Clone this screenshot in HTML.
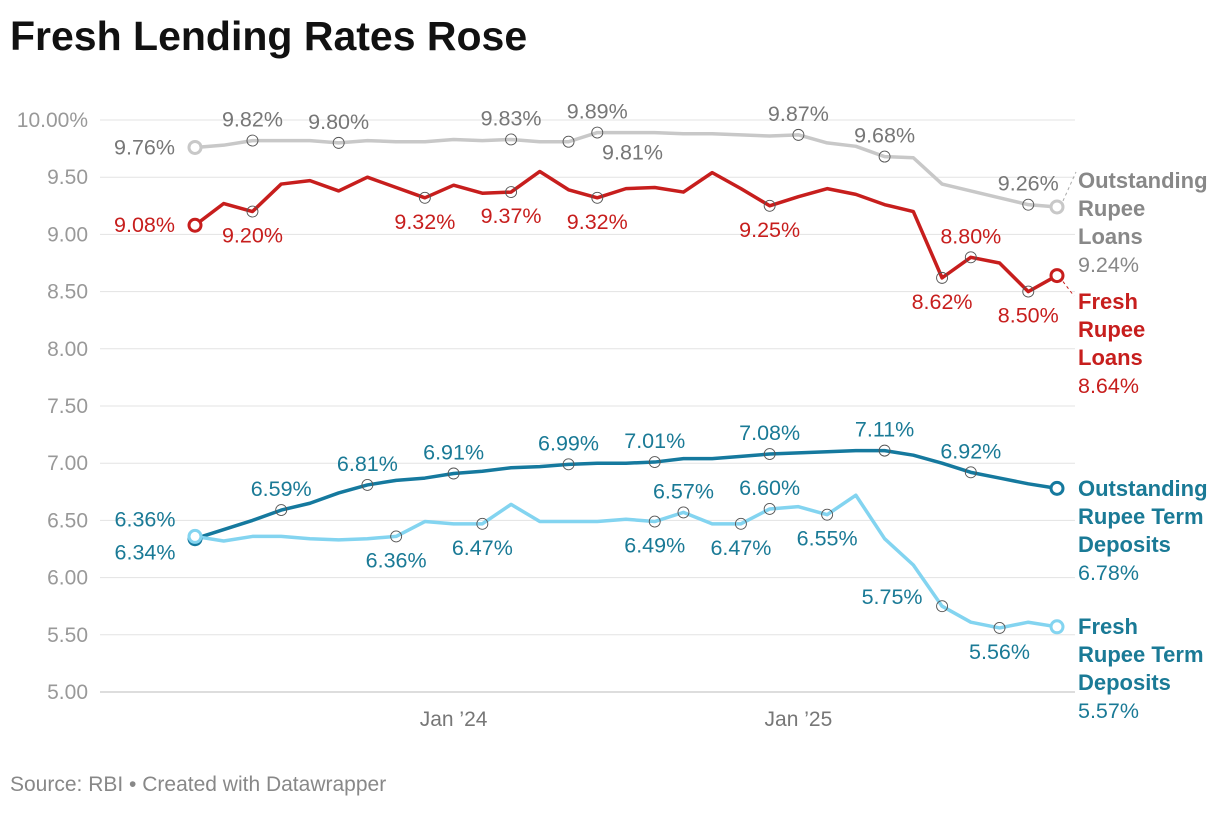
<!DOCTYPE html>
<html><head><meta charset="utf-8"><style>
body{margin:0;background:#fff;font-family:"Liberation Sans",sans-serif;}
svg text{font-family:"Liberation Sans",sans-serif;}
</style></head><body>
<svg id="c" width="1220" height="808">
<text x="10" y="50" font-size="41" font-weight="bold" fill="#111">Fresh Lending Rates Rose</text>
<text x="10" y="791" font-size="21" fill="#888">Source: RBI • Created with Datawrapper</text>
<g id="grid"></g><g id="lines"></g><g id="marks"></g><g id="labels"></g>
</svg>
<script>
const yTicks=[5,5.5,6,6.5,7,7.5,8,8.5,9,9.5,10];
const xTickLabels=["Jan ’24","Jan ’25"];
const xTickIdx=[9,21];
const outLoans=[9.76,9.78,9.82,9.82,9.82,9.80,9.82,9.81,9.81,9.83,9.82,9.83,9.81,9.81,9.89,9.89,9.89,9.88,9.88,9.87,9.86,9.87,9.80,9.77,9.68,9.67,9.44,9.38,9.32,9.26,9.24];
const freshLoans=[9.08,9.27,9.20,9.44,9.47,9.38,9.50,9.41,9.32,9.43,9.36,9.37,9.55,9.39,9.32,9.40,9.41,9.37,9.54,9.40,9.25,9.33,9.40,9.35,9.26,9.20,8.62,8.80,8.75,8.50,8.64];
const outTD=[6.34,6.42,6.50,6.59,6.65,6.74,6.81,6.85,6.87,6.91,6.93,6.96,6.97,6.99,7.00,7.00,7.01,7.04,7.04,7.06,7.08,7.09,7.10,7.11,7.11,7.07,7.00,6.92,6.87,6.82,6.78];
const freshTD=[6.36,6.32,6.36,6.36,6.34,6.33,6.34,6.36,6.49,6.47,6.47,6.64,6.49,6.49,6.49,6.51,6.49,6.57,6.47,6.47,6.60,6.62,6.55,6.72,6.34,6.11,5.75,5.61,5.56,5.61,5.57];
const NS="http://www.w3.org/2000/svg";
const x=i=>195+i*(862/30);
const y=v=>692-(v-5)*114.4;
function mk(tag,attrs,parent){const e=document.createElementNS(NS,tag);for(const k in attrs)e.setAttribute(k,attrs[k]);document.getElementById(parent).appendChild(e);return e;}
yTicks.forEach(t=>{
 const l=mk('line',{x1:100,x2:1075,y1:y(t),y2:y(t),stroke:t===5?'#bbb':'#e3e3e3','stroke-width':1},'grid');
 
 
 const tx=mk('text',{x:88,y:y(t)+7,'font-size':21,fill:'#999','text-anchor':'end'},'grid');tx.textContent=t.toFixed(2)+(t===10?'%':'');
 
 
});
xTickLabels.forEach((s,k)=>{
 const tx=mk('text',{x:x(xTickIdx[k]),y:726,'font-size':21,fill:'#777','text-anchor':'middle'},'grid');tx.textContent=s;
 
 
});
const series=[
 {d:outLoans,c:'#c8c8c8',tc:'#777',lc:'#888',name:'outstanding-loans',w:3.5,
  ann:[[0,'l'],[2,'a'],[5,'a'],[11,'a'],[13,'br'],[14,'a'],[21,'a'],[24,'a'],[29,'a']],
  end:['Outstanding','Rupee','Loans'],ey:188},
 {d:freshLoans,c:'#c71e1d',tc:'#c71e1d',lc:'#c71e1d',name:'fresh-loans',w:3.5,
  ann:[[0,'l'],[2,'b'],[8,'b'],[11,'b'],[14,'b'],[20,'b'],[26,'b'],[27,'a'],[29,'b']],
  end:['Fresh','Rupee','Loans'],ey:309},
 {d:outTD,c:'#15799e',tc:'#1a7a96',lc:'#1a7a96',name:'outstanding-term-deposits',w:3.5,
  ann:[[0,'lb'],[3,'a'],[6,'a'],[9,'a'],[13,'a'],[16,'a'],[20,'a'],[24,'a'],[27,'a']],
  end:['Outstanding','Rupee Term','Deposits'],ey:496},
 {d:freshTD,c:'#83d4f0',tc:'#1a7a96',lc:'#1a7a96',name:'fresh-term-deposits',w:3.5,
  ann:[[0,'la'],[7,'b'],[10,'b'],[16,'b'],[17,'a'],[19,'b'],[20,'a'],[22,'b'],[26,'la2'],[28,'b']],
  end:['Fresh','Rupee Term','Deposits'],ey:634}
];
series.forEach(s=>{
 const p=mk('path',{d:s.d.map((v,i)=>(i?'L':'M')+x(i)+' '+y(v)).join(' '),fill:'none',stroke:s.c,'stroke-width':s.w,'stroke-linejoin':'round'},'lines');
 
 
 s.ann.forEach(([i,pos])=>{
  if(i!==0){const c=mk('circle',{cx:x(i),cy:y(s.d[i]),r:5.5,fill:'none',stroke:'#555','stroke-width':0.9},'marks');
   
   }
  let tx=x(i),ty=y(s.d[i]),anchor='middle';
  if(pos==='a')ty-=14;else if(pos==='b')ty+=31;
  else if(pos==='l'){tx-=20;ty+=7;anchor='end';}
  else if(pos==='lb'){tx-=50;ty+=21;}
  else if(pos==='la'){tx-=50;ty-=10;}
  else if(pos==='la2'){tx-=50;ty-=2;}
  else if(pos==='br'){tx+=64;ty+=18;}
  const t=mk('text',{x:tx,y:ty,'font-size':21.5,fill:s.tc,'text-anchor':anchor},'labels');
  t.textContent=s.d[i].toFixed(2)+'%';
  
  
 });
 [0,s.d.length-1].forEach(i=>{
  const c=mk('circle',{cx:x(i),cy:y(s.d[i]),r:6,fill:'#fff',stroke:s.c,'stroke-width':3},'marks');
  
  
 });
 s.end.forEach((w,k)=>{
  const t=mk('text',{x:1078,y:s.ey+k*28,'font-size':22,'font-weight':'bold',fill:s.lc},'labels');t.textContent=w;
  
  
 });
 const v=mk('text',{x:1078,y:s.ey+s.end.length*28,'font-size':21.5,fill:s.lc},'labels');
 v.textContent=s.d[s.d.length-1].toFixed(2)+'%';
 
 
});
const l1=mk('path',{d:`M${x(30)+6} ${y(outLoans[30])-6} L1076 172`,stroke:'#aaa','stroke-dasharray':'3 3',fill:'none'},'lines');


const l2=mk('path',{d:`M${x(30)+6} ${y(freshLoans[30])+6} L1074 296`,stroke:'#c71e1d','stroke-dasharray':'3 3',fill:'none'},'lines');


</script>
</body></html>
